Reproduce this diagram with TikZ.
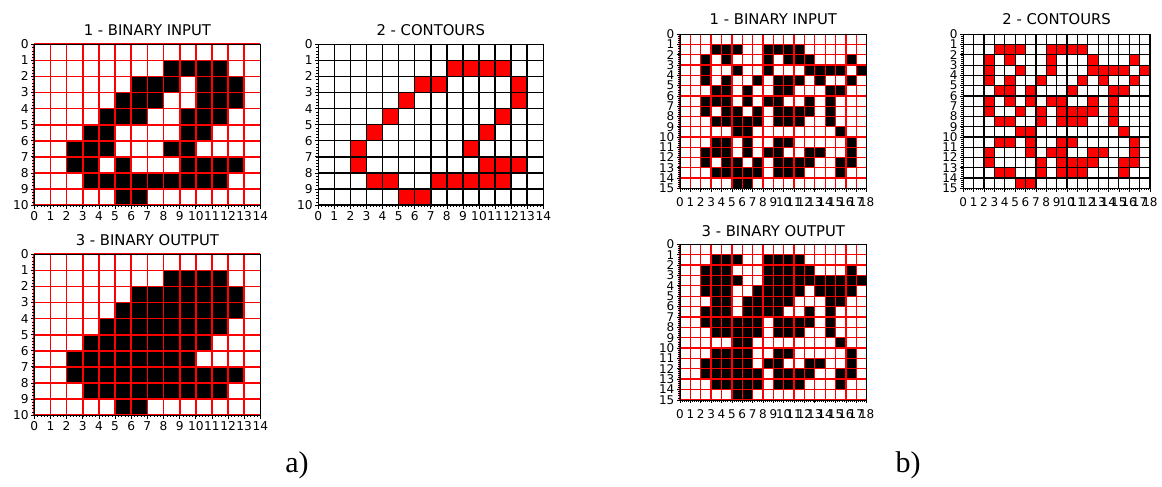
\documentclass[tikz,border=0pt]{standalone}
\usepackage{fontspec}
\newfontfamily\dvs{DejaVu Sans}
\newfontfamily\tms{Liberation Serif}
\definecolor{gridred}{RGB}{255,0,0}
\def\tfs{11.5}
\def\labgap{6.5}
\def\fillcol{black}
\def\linecol{gridred}
\tikzset{
  ticklab/.style={font=\dvs\fontsize{\tfs pt}{\tfs pt}\selectfont, inner sep=0pt, text=black},
  ttl/.style={font=\dvs\fontsize{14.8pt}{15pt}\selectfont, inner sep=0pt, anchor=base, text=black},
  captxt/.style={font=\tms\fontsize{30pt}{32pt}\selectfont, inner sep=0pt, text=black},
  minortick/.style={black, line width=0.45pt},
  majortick/.style={black, line width=0.7pt},
  spine/.style={black, line width=0.7pt}
}
% #1 name, #2 x0, #3 y0, #4 ncols, #5 nrows, #6 cell w, #7 cell h, #8 grid line width, #9 cells
\newcommand{\gridpanel}[9]{%
 \begin{scope}[shift={(#2pt,-#3pt)},x=#6pt,y=-#7pt]
  \foreach \r/\cs in {#9}{\foreach \c in \cs{\fill[\fillcol] (\c,\r) rectangle ++(1,1);}}
  \foreach \i in {0,...,#4}{\draw[\linecol,line width=#8pt] (\i,0) -- (\i,#5);}
  \foreach \j in {0,...,#5}{\draw[\linecol,line width=#8pt] (0,\j) -- (#4,\j);}
  \draw[spine] (0,0) rectangle (#4,#5);
  \pgfmathtruncatemacro\nmx{5*#4}
  \pgfmathtruncatemacro\nmy{5*#5}
  \foreach \k in {0,...,\nmx}{\draw[minortick] (\k/5,#5) -- ++(0pt,-2pt);}
  \foreach \k in {0,...,\nmy}{\draw[minortick] (0,\k/5) -- ++(-2pt,0pt);}
  \foreach \i in {0,...,#4}{%
    \draw[majortick] (\i,#5) -- ++(0pt,-3.5pt);
    \node[ticklab,anchor=north] (#1x\i) at ([yshift=-\labgap pt]\i,#5) {\i};}
  \foreach \j in {0,...,#5}{%
    \draw[majortick] (0,\j) -- ++(-3.5pt,0pt);
    \node[ticklab,anchor=east] (#1y\j) at ([xshift=-5.5pt]0,\j) {\j};}
 \end{scope}}
\begin{document}
\begin{tikzpicture}[x=1pt,y=-1pt]
\useasboundingbox[fill=white] (0,0) rectangle (1162,487);

% ---------- a) ----------
\def\tfs{12.2}\def\labgap{6}
\def\fillcol{black}\def\linecol{gridred}
\gridpanel{aone}{34.3}{44.3}{14}{10}{16.15}{16.07}{1.7}{%
1/{8,9,10,11},2/{6,7,8,10,11,12},3/{5,6,7,10,11,12},4/{4,5,6,9,10,11},5/{3,4,9,10},%
6/{2,3,4,8,9},7/{2,3,5,9,10,11,12},8/{3,4,5,6,7,8,9,10,11},9/{5,6}}
\node[ttl] (aonet) at (147.4,35.5) {1 - BINARY INPUT};

\def\fillcol{gridred}\def\linecol{black}
\gridpanel{atwo}{318.3}{44.3}{14}{10}{16.07}{16.07}{1.5}{%
1/{8,9,10,11},2/{6,7,12},3/{5,12},4/{4,11},5/{3,10},6/{2,9},7/{2,10,11,12},%
8/{3,4,7,8,9,10,11},9/{5,6}}
\node[ttl] (atwot) at (430.8,35.5) {2 - CONTOURS};

\def\fillcol{black}\def\linecol{gridred}
\gridpanel{athree}{34.3}{254.3}{14}{10}{16.15}{16.07}{1.7}{%
1/{8,9,10,11},2/{6,7,8,9,10,11,12},3/{5,6,7,8,9,10,11,12},4/{4,5,6,7,8,9,10,11},%
5/{3,4,5,6,7,8,9,10},6/{2,3,4,5,6,7,8,9},7/{2,3,4,5,6,7,8,9,10,11,12},%
8/{3,4,5,6,7,8,9,10,11},9/{5,6}}
\node[ttl] (athreet) at (147.4,245.5) {3 - BINARY OUTPUT};

% ---------- b) ----------
\def\tfs{12}\def\labgap{9.5}
\def\fillcol{black}\def\linecol{gridred}
\gridpanel{bone}{680}{34.3}{18}{15}{10.37}{10.27}{1.3}{%
1/{3,4,5,8,9,10,11},2/{2,4,8,10,11,12,16},3/{2,5,8,12,13,14,15,17},%
4/{2,4,7,9,10,11,13,16},5/{3,4,6,9,10,14,15},6/{2,3,4,6,8,9,12,14},%
7/{2,4,5,7,9,10,11,12,14},8/{3,4,5,6,7,9,10,11,14},9/{5,6,15},%
10/{3,4,6,9,10,16},11/{2,3,4,6,8,9,12,13,16},12/{2,4,5,7,9,10,11,12,15,16},%
13/{3,4,5,6,7,9,10,11,15},14/{5,6}}
\node[ttl] (bonet) at (773.3,25) {1 - BINARY INPUT};

\def\fillcol{gridred}\def\linecol{black}
\gridpanel{btwo}{963.3}{34.3}{18}{15}{10.37}{10.27}{1.2}{%
1/{3,4,5,8,9,10,11},2/{2,4,8,12,16},3/{2,5,8,12,13,14,15,17},4/{2,4,7,11,13,16},%
5/{3,4,6,10,14,15},6/{2,4,6,8,9,12,14},7/{2,5,7,9,10,11,12,14},8/{3,4,7,9,10,11,14},%
9/{5,6,15},10/{3,4,6,9,10,16},11/{2,6,8,9,12,13,16},12/{2,7,9,10,11,12,15,16},%
13/{3,4,7,9,10,11,15},14/{5,6}}
\node[ttl] (btwot) at (1056.6,25) {2 - CONTOURS};

\def\fillcol{black}\def\linecol{gridred}
\gridpanel{bthree}{680}{244.3}{18}{15}{10.37}{10.37}{1.3}{%
1/{3,4,5,8,9,10,11},2/{2,3,4,8,9,10,11,12,16},3/{2,3,4,5,8,9,10,11,12,13,14,15,16,17},%
4/{2,3,4,7,8,9,10,11,13,14,15,16},5/{3,4,6,7,8,9,10,14,15},6/{2,3,4,6,7,8,9,12,14},%
7/{2,3,4,5,6,7,9,10,11,12,14},8/{3,4,5,6,7,9,10,11,14},9/{5,6,15},10/{3,4,5,6,9,10,16},%
11/{2,3,4,5,6,8,9,12,13,16},12/{2,3,4,5,6,7,9,10,11,12,15,16},%
13/{3,4,5,6,7,9,10,11,15},14/{5,6}}
\node[ttl] (bthreet) at (773.3,236.5) {3 - BINARY OUTPUT};

% captions
\node[captxt] (capa) at (297,465) {a)};
\node[captxt] (capb) at (908,465) {b)};
\end{tikzpicture}
\end{document}
